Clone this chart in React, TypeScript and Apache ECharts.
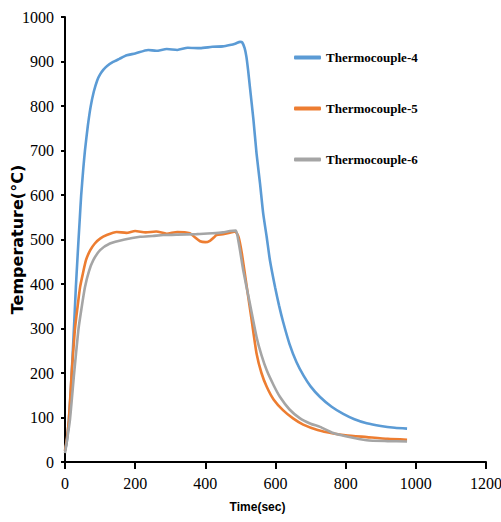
import React, { useEffect, useRef } from "react";
import * as echarts from "echarts";

const seriesNames = ["Thermocouple-4", "Thermocouple-5", "Thermocouple-6"];
const seriesColors = ["#5B9BD5", "#ED7D31", "#A5A5A5"];

const tc4Time = [0, 5, 10, 15, 22, 27, 31, 35, 38, 42, 46, 52, 57, 65, 73, 82, 92, 100, 109, 120, 137, 155, 176, 200, 237, 260, 290, 320, 350, 385, 420, 450, 470, 485, 499, 505, 512, 517, 522, 527, 537, 546, 556, 565, 575, 584, 599, 610, 622, 640, 660, 680, 700, 727, 760, 793, 825, 860, 900, 940, 975];
const tc4Temp = [25, 45, 85, 140, 244, 325, 393, 450, 492, 545, 598, 658, 701, 755, 798, 832, 858, 871, 881, 890, 899, 906, 914, 918, 926, 924, 928, 926, 931, 930, 933, 934, 937, 940, 944, 943, 930, 911, 880, 843, 770, 693, 625, 558, 505, 454, 392, 352, 314, 265, 224, 194, 170, 146, 124, 108, 96, 87, 81, 77, 75];

const tc5Time = [0, 5, 11, 19, 28, 36, 43, 50, 60, 72, 85, 100, 119, 147, 175, 200, 230, 260, 290, 320, 356, 370, 385, 400, 413, 425, 432, 450, 470, 485, 495, 504, 518, 532, 546, 560, 575, 595, 622, 650, 679, 720, 765, 800, 860, 920, 975];
const tc5Temp = [25, 50, 94, 199, 296, 350, 393, 420, 454, 476, 491, 502, 510, 517, 515, 519, 516, 518, 513, 517, 514, 505, 496, 494, 497, 505, 510, 512, 515, 518, 505, 469, 394, 319, 244, 200, 169, 140, 116, 98, 84, 72, 64, 60, 56, 52, 50];

const tc6Time = [0, 5, 14, 26, 38, 47, 57, 68, 81, 100, 128, 170, 214, 250, 280, 320, 375, 420, 450, 470, 487, 494, 500, 508, 527, 546, 560, 575, 595, 613, 640, 670, 700, 727, 765, 800, 860, 920, 975];
const tc6Temp = [20, 45, 94, 199, 296, 345, 393, 428, 454, 476, 491, 500, 506, 508, 510, 511, 512, 514, 516, 519, 520, 498, 470, 431, 356, 281, 240, 206, 172, 146, 118, 98, 86, 79, 65, 58, 49, 47, 46];

const allTimes = [tc4Time, tc5Time, tc6Time];
const allTemps = [tc4Temp, tc5Temp, tc6Temp];

export default function App() {
  const ref = useRef<HTMLDivElement>(null);
  useEffect(() => {
    if (!ref.current) return;
    const chart = echarts.init(ref.current, undefined, { renderer: "svg" });
    const tickFont = {
      fontFamily: "'Liberation Serif', 'Times New Roman', serif",
      fontSize: 16,
      color: "#000",
      formatter: (v: number) => String(v),
    };
    chart.setOption({
      animation: false,
      backgroundColor: "#fff",
      grid: {
        left: 65,
        right: 15,
        top: 17,
        bottom: 60,
        containLabel: false,
        outerBoundsMode: "none",
      },
      legend: {
        orient: "vertical",
        left: 289,
        top: 46,
        itemGap: 38,
        itemWidth: 27,
        itemHeight: 4,
        icon: "roundRect",
        data: seriesNames,
        textStyle: {
          fontFamily: "'Liberation Serif', 'Times New Roman', serif",
          fontWeight: "bold",
          fontSize: 13,
          color: "#000",
        },
      },
      xAxis: {
        type: "value",
        min: 0,
        max: 1200,
        interval: 200,
        name: "Time(sec)",
        nameLocation: "middle",
        nameGap: 39,
        nameMoveOverlap: false,
        nameTextStyle: {
          fontFamily: "'Liberation Sans', Arial, sans-serif",
          fontWeight: "bold",
          fontSize: 12,
          color: "#000",
          padding: [0, 36, 0, 0],
        },
        axisLine: { show: true, lineStyle: { color: "#000", width: 2 } },
        axisTick: { show: true, length: 7, lineStyle: { color: "#000", width: 2 } },
        axisLabel: { ...tickFont, margin: 13 },
        splitLine: { show: false },
      },
      yAxis: {
        type: "value",
        min: 0,
        max: 1000,
        interval: 100,
        name: "Temperature(°C)",
        nameLocation: "middle",
        nameGap: 40,
        nameMoveOverlap: false,
        nameTextStyle: {
          fontFamily: "'DejaVu Sans', sans-serif",
          fontWeight: "bold",
          fontSize: 16,
          color: "#000",
        },
        axisLine: { show: true, lineStyle: { color: "#000", width: 2 } },
        axisTick: { show: true, length: 4, lineStyle: { color: "#000", width: 2 } },
        axisLabel: { ...tickFont, margin: 11 },
        splitLine: { show: false },
      },
      series: seriesNames.map((name, i) => ({
        name,
        type: "line",
        data: allTimes[i].map((t, j) => [t, allTemps[i][j]]),
        showSymbol: false,
        smooth: 0.2,
        color: seriesColors[i],
        lineStyle: { width: 2.6, color: seriesColors[i] },
      })),
    });
    return () => chart.dispose();
  }, []);
  return <div ref={ref} style={{ width: 501, height: 522, position: "absolute", left: 0, top: 0 }} />;
}
